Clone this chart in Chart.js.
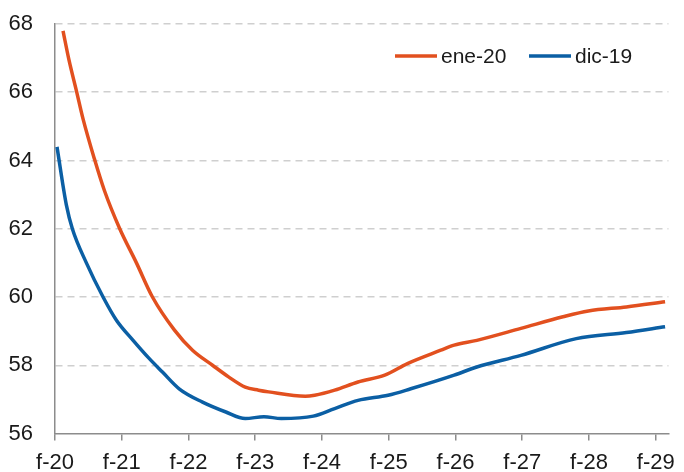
<!DOCTYPE html>
<html>
<head>
<meta charset="utf-8">
<script src="https://cdn.jsdelivr.net/npm/chart.js@4.4.1/dist/chart.umd.min.js"></script>
<style>
  body { margin: 0; background: #fff; }
  canvas { display: block; }
</style>
</head>
<body>
<canvas id="chart" width="684" height="472"></canvas>
<script>
// Series data (x = year fraction, y = value)
const eneYears = [2020.12, 2020.21, 2020.32, 2020.42, 2020.59, 2020.74, 2020.97, 2021.22, 2021.46, 2021.79,
    2022.06, 2022.36, 2022.60, 2022.85, 2023.05, 2023.20, 2023.75, 2023.89, 2024.19, 2024.54,
    2024.94, 2025.28, 2025.78, 2025.98, 2026.32, 2026.98, 2027.61, 2027.99, 2028.56, 2029.14];
const eneValues = [67.80, 66.94, 66.05, 65.22, 64.05, 63.12, 62.00, 61.00, 60.00, 59.03,
    58.44, 58.00, 57.66, 57.36, 57.27, 57.22, 57.09, 57.12, 57.27, 57.51,
    57.71, 58.05, 58.44, 58.59, 58.73, 59.08, 59.42, 59.59, 59.71, 59.86];

const dicYears = [2020.03, 2020.17, 2020.26, 2020.47, 2020.72, 2020.92, 2021.17, 2021.41, 2021.61, 2021.86,
    2022.21, 2022.56, 2022.85, 2023.13, 2023.39, 2023.87, 2024.19, 2024.54, 2024.99, 2025.33,
    2025.98, 2026.32, 2026.98, 2027.81, 2028.56, 2029.14];
const dicValues = [64.40, 62.70, 62.00, 61.00, 60.00, 59.32, 58.73, 58.20, 57.80, 57.31,
    56.92, 56.63, 56.44, 56.49, 56.44, 56.51, 56.73, 56.97, 57.12, 57.31,
    57.71, 57.95, 58.29, 58.78, 58.96, 59.13];

// Axis ticks
const tickYears = [2020, 2021, 2022, 2023, 2024, 2025, 2026, 2027, 2028, 2029];
const tickLabels = ['f-20', 'f-21', 'f-22', 'f-23', 'f-24', 'f-25', 'f-26', 'f-27', 'f-28', 'f-29'];
const yTicks = [56, 58, 60, 62, 64, 66, 68];

const seriesNames = ['ene-20', 'dic-19'];
const seriesColors = ['#E2501F', '#0B5FA4'];

const fontFamily = '"Liberation Sans", Arial, sans-serif';

function toPoints(xs, ys) {
    return xs.map((x, i) => ({ x: x, y: ys[i] }));
}

// Simple legend drawn in the top-right corner
const topLegend = {
    id: 'topLegend',
    afterDraw(chart) {
        const ctx = chart.ctx;
        const items = [{ x: 395 }, { x: 529 }];
        ctx.save();
        ctx.font = '21px ' + fontFamily;
        ctx.textBaseline = 'middle';
        ctx.fillStyle = '#1a1a1a';
        chart.data.datasets.forEach((ds, i) => {
            const x = items[i].x;
            const y = 56;
            ctx.strokeStyle = ds.borderColor;
            ctx.lineWidth = 3.5;
            ctx.beginPath();
            ctx.moveTo(x, y);
            ctx.lineTo(x + 42, y);
            ctx.stroke();
            ctx.fillText(ds.label, x + 46, y + 1);
        });
        ctx.restore();
    }
};

const ctx = document.getElementById('chart').getContext('2d');
const chart = new Chart(ctx, {
    type: 'line',
    data: {
        datasets: [
            {
                label: seriesNames[0],
                data: toPoints(eneYears, eneValues),
                borderColor: seriesColors[0],
                borderWidth: 3.5,
                pointRadius: 0,
                cubicInterpolationMode: 'monotone',
                fill: false
            },
            {
                label: seriesNames[1],
                data: toPoints(dicYears, dicValues),
                borderColor: seriesColors[1],
                borderWidth: 3.5,
                pointRadius: 0,
                cubicInterpolationMode: 'monotone',
                fill: false
            }
        ]
    },
    options: {
        responsive: false,
        animation: false,
        layout: { padding: { top: 24, right: 15, left: 0, bottom: 0 } },
        plugins: {
            legend: { display: false },
            tooltip: { enabled: false }
        },
        scales: {
            x: {
                type: 'linear',
                min: 2020,
                max: 2029.19,
                afterBuildTicks: scale => {
                    scale.ticks = tickYears.map(v => ({ value: v }));
                },
                afterFit: scale => { scale.height = 38.5; },
                ticks: {
                    autoSkip: false,
                    maxRotation: 0,
                    padding: 9,
                    color: '#1a1a1a',
                    font: { family: fontFamily, size: 22 },
                    callback: v => tickLabels[tickYears.indexOf(v)]
                },
                grid: {
                    drawOnChartArea: false,
                    drawTicks: true,
                    tickLength: 7,
                    color: '#8c8c8c',
                    lineWidth: 1.5
                },
                border: { display: true, color: '#8c8c8c', width: 1.5 }
            },
            y: {
                min: 56,
                max: 68,
                afterBuildTicks: scale => {
                    scale.ticks = yTicks.map(v => ({ value: v }));
                },
                afterFit: scale => {
                    scale.width = 55;
                    scale.paddingTop = 0;
                    scale.paddingBottom = 0;
                },
                ticks: {
                    padding: 22,
                    color: '#1a1a1a',
                    font: { family: fontFamily, size: 22 }
                },
                grid: {
                    drawTicks: false,
                    color: c => (c.tick && c.tick.value === 56) ? 'rgba(0,0,0,0)' : '#cfcfcf',
                    lineWidth: 1.5
                },
                border: { display: true, color: '#8c8c8c', width: 1.5, dash: [7, 5] }
            }
        }
    },
    plugins: [topLegend]
});
</script>
</body>
</html>
